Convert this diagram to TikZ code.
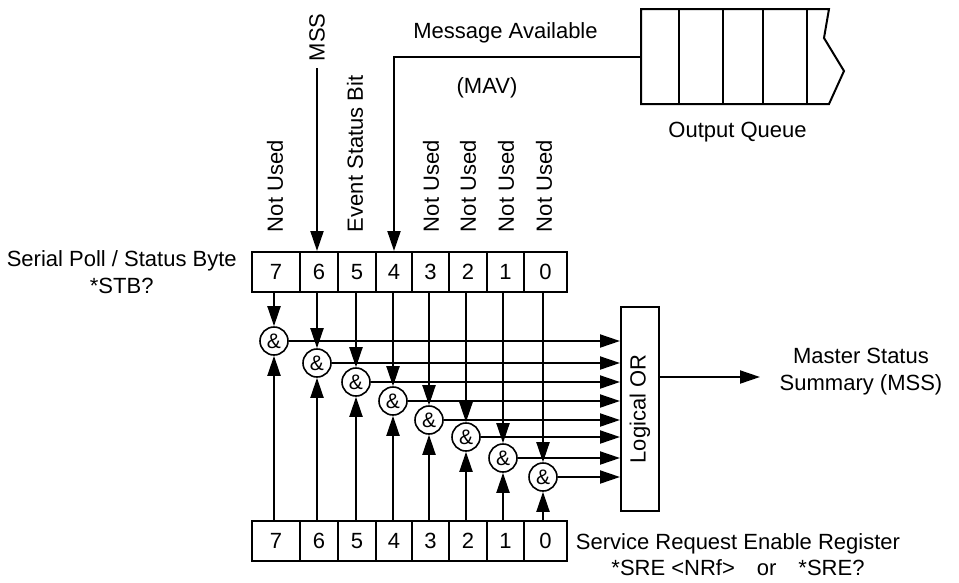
\documentclass[tikz,border=0pt]{standalone}
\usepackage{fontspec}
\setmainfont{Liberation Sans}
\usetikzlibrary{arrows.meta,positioning}

\begin{document}
\begin{tikzpicture}[x=1pt,y=-1pt,->,>={Triangle[length=20pt,width=13pt]},line width=2pt,
    font=\fontsize{22}{26.5}\selectfont]

            \tikzstyle{cell}=[draw,minimum height=40pt,inner sep=0pt]
            \tikzstyle{gate}=[draw,circle,minimum size=28pt,inner sep=0pt,line width=1.6pt,font=\fontsize{21}{21}\selectfont]
            \tikzstyle{bitlabel}=[rotate=90,anchor=west,inner sep=0pt]

            \useasboundingbox (0,0) rectangle (959,582);

            % status byte and enable register
            \foreach \b/\l/\r in {7/252/300,6/300/338,5/338/376,4/376/412,3/412/449,2/449/487,1/487/524,0/524/567} {
                \node[cell,minimum width={(\r-\l)*1pt}] (t\b) at ({(\l+\r)/2},272) {\b};
                \node[cell,minimum width={(\r-\l)*1pt}] (b\b) [below=227pt of t\b] {\b};
            }

            \node[align=center] (stb) [left=10pt of t7] {Serial Poll / Status Byte\\*STB?};
            \node[align=center] (sre) at (738,554.5) {Service Request Enable Register\\*SRE <NRf>\quad or\quad *SRE?};

            % bit labels
            \foreach \b/\x in {7/275,3/431,2/468,1/506,0/544}
                \node[bitlabel] (l\b) at (\x,233) {Not Used};
            \node[bitlabel] (l5) at (355,233) {Event Status Bit};
            \node[bitlabel,inner xsep=6pt] (l6) at (317,68) {MSS};
            \draw (l6.west) -- (l6.west |- t6.north);

            % output queue
            \draw[-] (641,9) -- (829,9) -- (824,38) -- (844,71) -- (829,104) -- (641,104) -- cycle;
            \foreach \x in {679,723,763,807}
                \draw[-] (\x,9) -- (\x,104);
            \coordinate (qin) at (641,56.5);
            \node (oq) at (737.5,131.7) {Output Queue};
            \node (mav) at (505.5,33) {Message Available};
            \node (mavs) at (487,88) {(MAV)};
            \draw (qin) -| (t4.north);

            % and gates into logical or
            \node[draw,minimum width=38pt,minimum height=204pt,inner sep=0pt] (orbox) at (640,409) {\rotatebox{90}{Logical OR}};
            \foreach \b/\gx/\gy in {7/274/341,6/317/363,5/356/382,4/393/401,3/429/420,2/466/437,1/503/458,0/543/477} {
                \node[gate] (g\b) at (\gx,\gy) {\&};
                \draw (t\b.south -| g\b) -- (g\b.north);
                \draw (b\b.north -| g\b) -- (g\b.south);
                \draw (g\b.east) -- (g\b.east -| orbox.west);
            }

            \coordinate (mssend) at (760,377);
            \draw (orbox.east |- mssend) -- (mssend);
            \node[align=center] (mss) at (861,371.5) {Master Status\\Summary (MSS)};
        \end{tikzpicture}
\end{document}
